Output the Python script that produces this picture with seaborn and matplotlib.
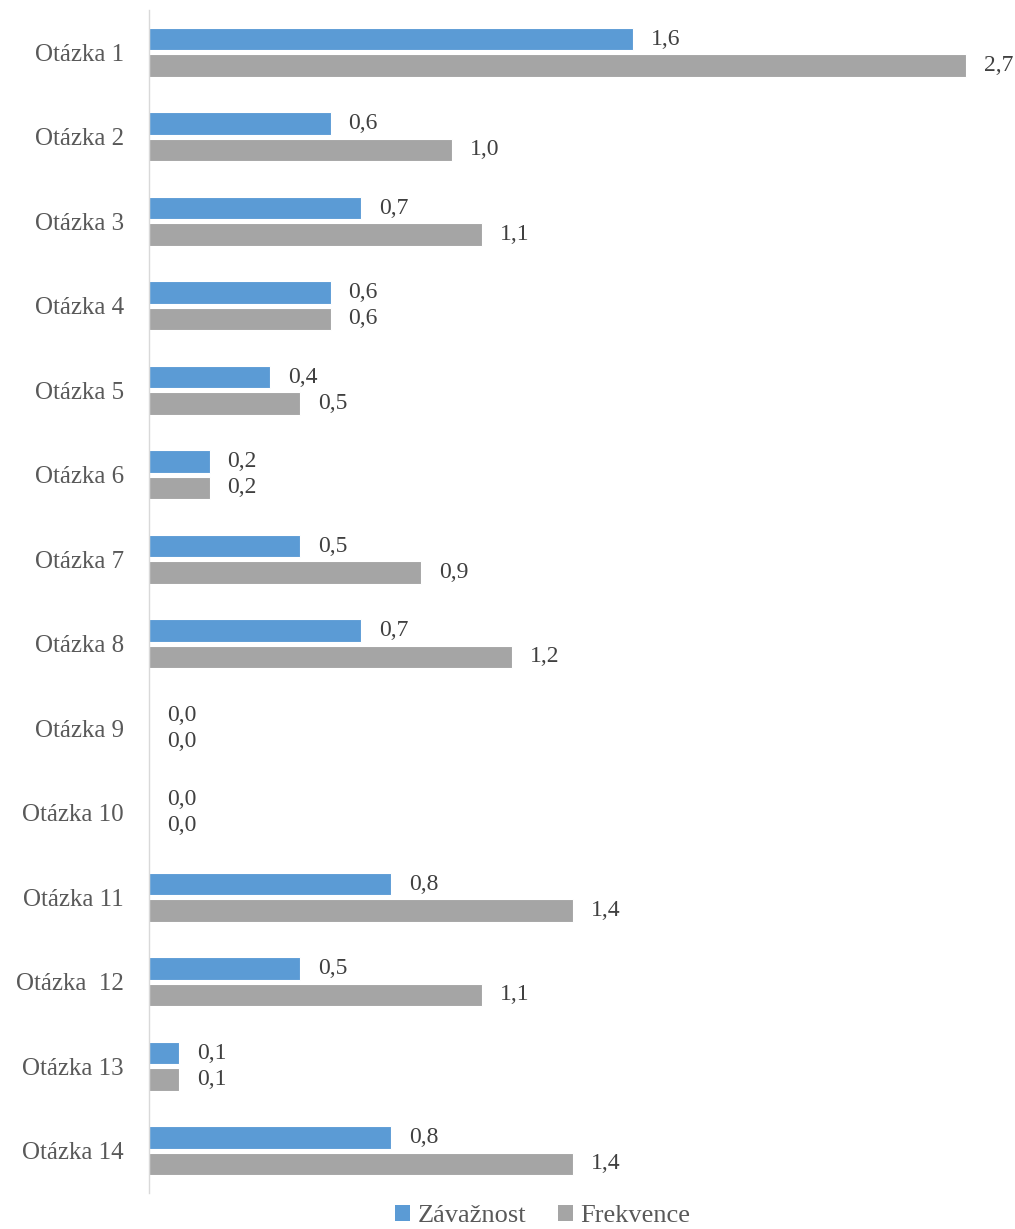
import matplotlib
matplotlib.use("Agg")
import matplotlib.pyplot as plt
import seaborn as sns
import pandas as pd
from matplotlib.patches import Patch

categories = ["Otázka 1", "Otázka 2", "Otázka 3", "Otázka 4", "Otázka 5", "Otázka 6",
              "Otázka 7", "Otázka 8", "Otázka 9", "Otázka 10", "Otázka 11", "Otázka  12",
              "Otázka 13", "Otázka 14"]
zavaznost = [1.6, 0.6, 0.7, 0.6, 0.4, 0.2, 0.5, 0.7, 0.0, 0.0, 0.8, 0.5, 0.1, 0.8]
frekvence = [2.7, 1.0, 1.1, 0.6, 0.5, 0.2, 0.9, 1.2, 0.0, 0.0, 1.4, 1.1, 0.1, 1.4]
series = ["Závažnost", "Frekvence"]
colors = ["#5B9BD5", "#A5A5A5"]

df = pd.DataFrame({
    "cat": categories * 2,
    "val": zavaznost + frekvence,
    "series": [series[0]] * len(categories) + [series[1]] * len(categories),
})

sns.set_theme(style="white")
plt.rcParams['font.family'] = ['Liberation Serif', 'DejaVu Serif']
text_color = "#595959"

fig = plt.figure(figsize=(10.15, 12.29), dpi=100)
W, H = 1015, 1229
ax_left, ax_right = 149 / W, 1010 / W
ax_top, ax_bot = 10 / H, 1193 / H
ax = fig.add_axes([ax_left, 1 - ax_bot, ax_right - ax_left, ax_bot - ax_top])

sns.barplot(data=df, y="cat", x="val", hue="series", order=categories,
            hue_order=series, palette=colors, saturation=1, orient="h",
            width=0.62, gap=0.14, edgecolor="white", linewidth=0.8,
            legend=False, ax=ax)

px_per_unit = 302.5
ax.set_xlim(0, (1010 - 149) / px_per_unit)
ax.set_ylim(len(categories) - 0.5, -0.5)

for cont in ax.containers:
    labels = [f"{v:.1f}".replace(".", ",") for v in cont.datavalues]
    ax.bar_label(cont, labels=labels, padding=13, fontsize=17, color="#404040")

ax.set_xlabel("")
ax.set_ylabel("")
ax.set_xticks([])
ax.tick_params(axis="y", length=0, pad=18, labelsize=18, labelcolor=text_color)
for s in ["top", "right", "bottom"]:
    ax.spines[s].set_visible(False)
ax.spines["left"].set_color("#D9D9D9")
ax.spines["left"].set_linewidth(1.0)

handles = [Patch(facecolor=c, edgecolor="none") for c in colors]
fig.legend(handles, series, loc="center", bbox_to_anchor=(543 / W, 1 - 1216 / H),
           ncol=2, frameon=False, fontsize=19, labelcolor=text_color,
           handlelength=0.55, handleheight=0.55, handletextpad=0.3, columnspacing=1.2)

fig.savefig("out.png", dpi=100)
